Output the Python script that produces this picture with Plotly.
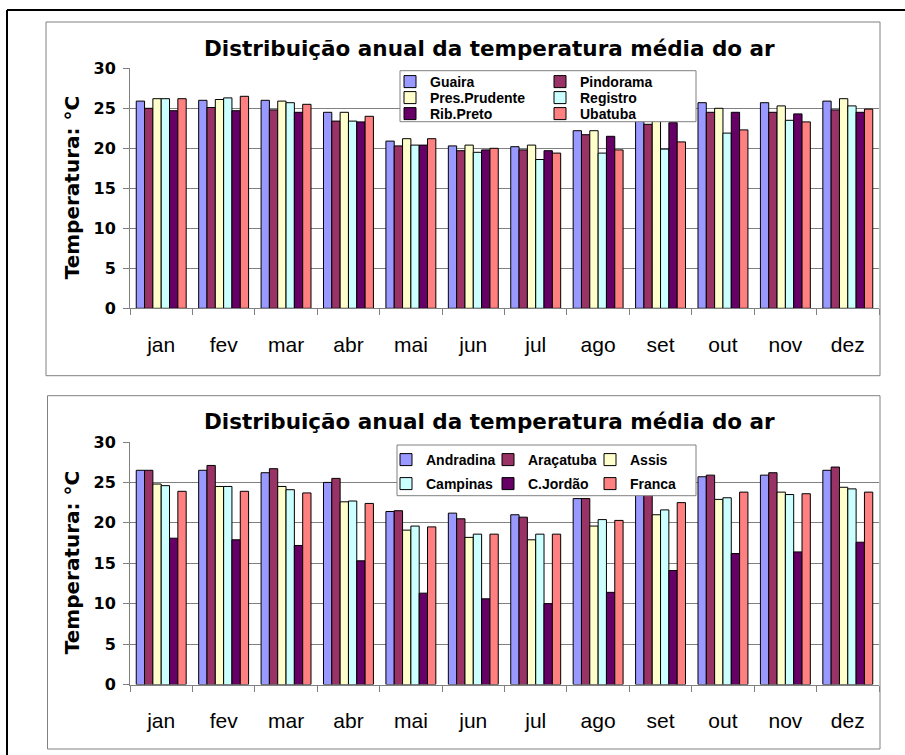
import plotly.graph_objects as go

W, H = 905, 755

months = ["jan", "fev", "mar", "abr", "mai", "jun", "jul", "ago", "set", "out", "nov", "dez"]

# Top chart series
guaira        = [25.9, 26.0, 26.0, 24.5, 20.9, 20.3, 20.2, 22.2, 23.7, 25.7, 25.7, 25.9]
pindorama     = [25.0, 25.1, 24.8, 23.4, 20.3, 19.7, 19.8, 21.7, 23.0, 24.5, 24.5, 24.8]
pres_prudente = [26.2, 26.1, 25.9, 24.5, 21.2, 20.4, 20.4, 22.2, 23.6, 25.0, 25.3, 26.2]
registro      = [26.2, 26.3, 25.7, 23.4, 20.4, 19.5, 18.6, 19.4, 19.9, 21.9, 23.5, 25.3]
rib_preto     = [24.7, 24.7, 24.5, 23.3, 20.4, 19.8, 19.7, 21.5, 23.2, 24.5, 24.3, 24.5]
ubatuba       = [26.2, 26.5, 25.5, 24.0, 21.2, 20.0, 19.4, 19.8, 20.8, 22.3, 23.3, 24.9]

# Bottom chart series
andradina = [26.5, 26.5, 26.2, 25.0, 21.4, 21.2, 21.0, 23.0, 23.9, 25.7, 25.9, 26.5]
aracatuba = [26.5, 27.1, 26.7, 25.5, 21.5, 20.5, 20.7, 23.0, 24.1, 25.9, 26.2, 26.9]
assis     = [24.8, 24.5, 24.5, 22.6, 19.1, 18.2, 17.9, 19.6, 21.0, 22.9, 23.8, 24.4]
campinas  = [24.6, 24.5, 24.1, 22.7, 19.6, 18.6, 18.6, 20.4, 21.6, 23.1, 23.5, 24.2]
c_jordao  = [18.1, 17.9, 17.2, 15.3, 11.3, 10.6, 10.0, 11.4, 14.1, 16.2, 16.4, 17.6]
franca    = [23.9, 23.9, 23.7, 22.4, 19.5, 18.6, 18.6, 20.3, 22.5, 23.8, 23.6, 23.8]

top_names = ["Guaira", "Pindorama", "Pres.Prudente", "Registro", "Rib.Preto", "Ubatuba"]
top_values = [guaira, pindorama, pres_prudente, registro, rib_preto, ubatuba]
bot_names = ["Andradina", "Araçatuba", "Assis", "Campinas", "C.Jordão", "Franca"]
bot_values = [andradina, aracatuba, assis, campinas, c_jordao, franca]

title_text = "Distribuição anual da temperatura média do ar"
ytitle_text = "Temperatura: °C"
y_ticks = [0, 5, 10, 15, 20, 25, 30]

colors = ["#9999FF", "#993366", "#FFFFCC", "#CCFFFF", "#660066", "#FF8080"]

# legend (row) each series belongs to
top_legends = ["legend", "legend", "legend2", "legend2", "legend3", "legend3"]
bot_legends = ["legend4", "legend4", "legend4", "legend5", "legend5", "legend5"]


def px(x):
    return x / W


def py(y):
    return 1 - y / H


fig = go.Figure()

for name, vals, col, lg in zip(top_names, top_values, colors, top_legends):
    fig.add_trace(go.Bar(x=months, y=vals, name=name, marker=dict(color=col, line=dict(color="#000000", width=1)),
                         xaxis="x", yaxis="y", legend=lg))
for name, vals, col, lg in zip(bot_names, bot_values, colors, bot_legends):
    fig.add_trace(go.Bar(x=months, y=vals, name=name, marker=dict(color=col, line=dict(color="#000000", width=1)),
                         xaxis="x2", yaxis="y2", legend=lg))

# plot areas (pixels)
P1 = dict(l=130, r=879, t=68.3, b=308.3)
P2 = dict(l=130, r=879, t=442, b=684.5)

axis_common_x = dict(type="category", tickson="boundaries", ticks="outside", ticklen=6, tickcolor="#808080",
                     showline=True, linecolor="#808080", linewidth=1, showgrid=False,
                     tickfont=dict(family="Liberation Sans, Arial", size=21, color="#000000"),
                     ticklabelstandoff=17)
axis_common_y = dict(range=[0, 30], tickvals=y_ticks, ticks="outside", ticklen=6, tickcolor="#808080",
                     showline=True, linecolor="#808080", linewidth=1, showgrid=True, gridcolor="#808080",
                     gridwidth=1, zeroline=False,
                     tickfont=dict(family="DejaVu Sans", size=16, color="#000000", weight="bold"),
                     ticklabelstandoff=4)

fig.update_layout(
    width=W, height=H,
    margin=dict(l=0, r=0, t=0, b=0, autoexpand=False),
    paper_bgcolor="#FFFFFF", plot_bgcolor="#FFFFFF",
    barmode="group", bargap=0.2, bargroupgap=0,
    xaxis=dict(domain=[px(P1["l"]), px(P1["r"])], anchor="y", **axis_common_x),
    yaxis=dict(domain=[py(P1["b"]), py(P1["t"])], anchor="x", **axis_common_y),
    xaxis2=dict(domain=[px(P2["l"]), px(P2["r"])], anchor="y2", **axis_common_x),
    yaxis2=dict(domain=[py(P2["b"]), py(P2["t"])], anchor="x2", **axis_common_y),
)

leg_font = dict(family="Liberation Sans, Arial", size=14, color="#000000", weight="bold")
leg_common = dict(orientation="h", bgcolor="rgba(0,0,0,0)", borderwidth=0, font=leg_font,
                  xanchor="left", yanchor="top", traceorder="normal")

top_rows = [81, 97, 113]
bot_rows = [459, 483]
fig.update_layout(
    legend=dict(x=px(390), y=py(top_rows[0] - 15), entrywidth=105, **leg_common),
    legend2=dict(x=px(390), y=py(top_rows[1] - 15), entrywidth=105, **leg_common),
    legend3=dict(x=px(390), y=py(top_rows[2] - 15), entrywidth=105, **leg_common),
    legend4=dict(x=px(386), y=py(bot_rows[0] - 15), entrywidth=57, **leg_common),
    legend5=dict(x=px(386), y=py(bot_rows[1] - 15), entrywidth=57, **leg_common),
)

shapes = []
# outer black border (left and top visible)
shapes.append(dict(type="line", xref="paper", yref="paper", x0=px(7), x1=px(7), y0=py(H + 5), y1=py(10),
                   line=dict(color="#000000", width=2)))
shapes.append(dict(type="line", xref="paper", yref="paper", x0=px(7), x1=px(W + 5), y0=py(10), y1=py(10),
                   line=dict(color="#000000", width=2)))
# chart frames
shapes.append(dict(type="rect", xref="paper", yref="paper", x0=px(46), x1=px(880), y0=py(375.7), y1=py(22),
                   line=dict(color="#808080", width=1), layer="below"))
shapes.append(dict(type="rect", xref="paper", yref="paper", x0=px(47.5), x1=px(880), y0=py(749), y1=py(395.7),
                   line=dict(color="#808080", width=1), layer="below"))
# legend boxes
shapes.append(dict(type="rect", xref="paper", yref="paper", x0=px(400), x1=px(696), y0=py(121.7), y1=py(70.7),
                   line=dict(color="#808080", width=1), fillcolor="#FFFFFF", layer="above"))
shapes.append(dict(type="rect", xref="paper", yref="paper", x0=px(397), x1=px(696), y0=py(495.7), y1=py(445),
                   line=dict(color="#808080", width=1), fillcolor="#FFFFFF", layer="above"))
fig.update_layout(shapes=shapes)

title_font = dict(family="DejaVu Sans", size=21.5, color="#000000", weight="bold")
ytitle_font = dict(family="DejaVu Sans", size=20, color="#000000", weight="bold")
annotations = [
    dict(text=title_text, xref="paper", yref="paper", x=px(490), y=py(48), xanchor="center", yanchor="middle",
         showarrow=False, font=title_font),
    dict(text=title_text, xref="paper", yref="paper", x=px(490), y=py(421), xanchor="center", yanchor="middle",
         showarrow=False, font=title_font),
    dict(text=ytitle_text, xref="paper", yref="paper", x=px(72), y=py((P1["t"] + P1["b"]) / 2), textangle=-90,
         xanchor="center", yanchor="middle", showarrow=False, font=ytitle_font),
    dict(text=ytitle_text, xref="paper", yref="paper", x=px(72), y=py((P2["t"] + P2["b"]) / 2), textangle=-90,
         xanchor="center", yanchor="middle", showarrow=False, font=ytitle_font),
]
fig.update_layout(annotations=annotations)

fig.write_html("out.html", config={"displayModeBar": False},
               post_script="document.body.style.margin='0px';")
